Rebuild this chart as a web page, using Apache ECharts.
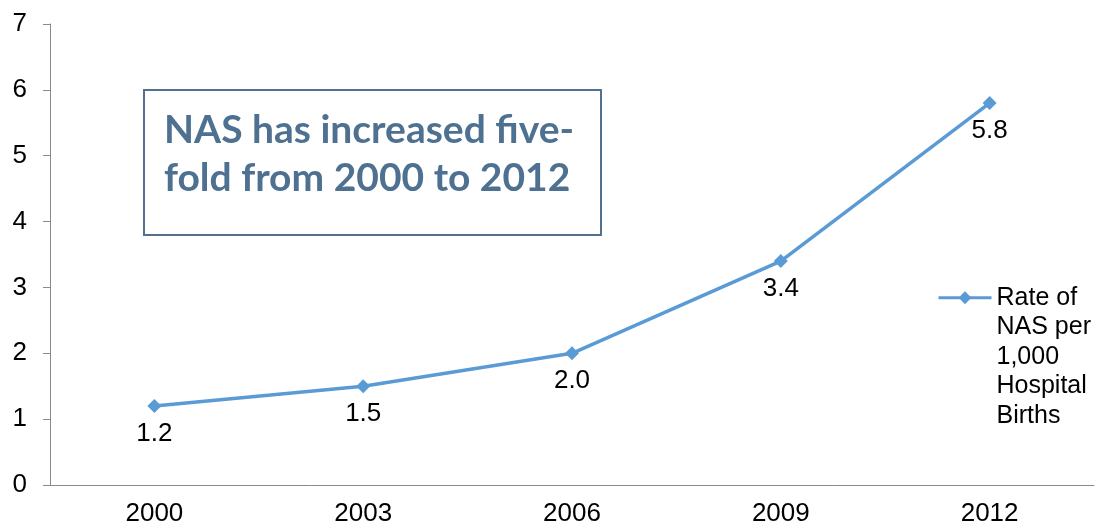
<!DOCTYPE html>
<html>
<head>
<meta charset="utf-8">
<script src="https://cdn.jsdelivr.net/npm/echarts@6/dist/echarts.min.js"></script>
<style>
  html, body { margin: 0; padding: 0; background: #fff; }
  #main { width: 1100px; height: 527px; }
</style>
</head>
<body>
<div id="main"></div>
<script>
    var years = ['2000', '2003', '2006', '2009', '2012'];
    var nasRate = [1.2, 1.5, 2.0, 3.4, 5.8];
    var seriesName = 'Rate of NAS per 1,000 Hospital Births';
    // leading blank lines keep the first line level with the legend icon
    var legendText = '\n\n\n\nRate of\nNAS per\n1,000\nHospital\nBirths';
    var boxLines = ['NAS has increased five-', 'fold from 2000 to 2012'];

    var myChart = echarts.init(document.getElementById('main'));

    var axisGray = '#898989';
    var lineBlue = '#5b9bd5';
    var labelFont = 'Liberation Sans, Arial';

    var option = {
        animation: false,
        grid: {
            left: 50,
            right: 6,
            top: 24,
            bottom: 42
        },
        legend: {
            left: 932,
            top: 160,
            orient: 'vertical',
            itemWidth: 53,
            itemHeight: 16,
            itemGap: 0,
            lineStyle: { width: 3 },
            formatter: function() { return legendText; },
            textStyle: {
                fontFamily: labelFont,
                fontSize: 25,
                color: '#000',
                lineHeight: 29.5
            },
            data: [seriesName]
        },
        xAxis: {
            type: 'category',
            data: years,
            boundaryGap: true,
            axisLine: { lineStyle: { color: axisGray, width: 1 } },
            axisTick: { alignWithLabel: false, length: 7, lineStyle: { color: axisGray } },
            axisLabel: {
                margin: 16,
                fontFamily: labelFont,
                fontSize: 26,
                color: '#000'
            }
        },
        yAxis: {
            type: 'value',
            min: 0,
            max: 7,
            interval: 1,
            splitLine: { show: false },
            axisLine: { show: true, lineStyle: { color: axisGray, width: 1 } },
            axisTick: { show: true, length: 7, lineStyle: { color: axisGray } },
            axisLabel: {
                margin: 23,
                fontFamily: labelFont,
                fontSize: 26,
                color: '#000'
            }
        },
        series: [{
            name: seriesName,
            type: 'line',
            data: nasRate,
            symbol: 'diamond',
            symbolSize: 14,
            itemStyle: { color: lineBlue },
            lineStyle: { color: lineBlue, width: 3.5 },
            label: {
                show: true,
                position: 'bottom',
                distance: 8,
                fontFamily: labelFont,
                fontSize: 26,
                color: '#000',
                formatter: function(p) { return p.value.toFixed(1); }
            }
        }],
        graphic: [{
            type: 'rect',
            left: 143,
            top: 89,
            shape: { width: 457, height: 145 },
            style: { fill: '#fff', stroke: '#52718e', lineWidth: 2 },
            z: 10
        }, {
            type: 'text',
            left: 164,
            top: 106,
            style: {
                text: boxLines.join('\n'),
                fontFamily: 'Lato',
                fontWeight: 'bold',
                fontSize: 39,
                lineHeight: 48,
                fill: '#4f7191'
            },
            z: 11
        }]
    };
    myChart.setOption(option);
</script>
</body>
</html>
